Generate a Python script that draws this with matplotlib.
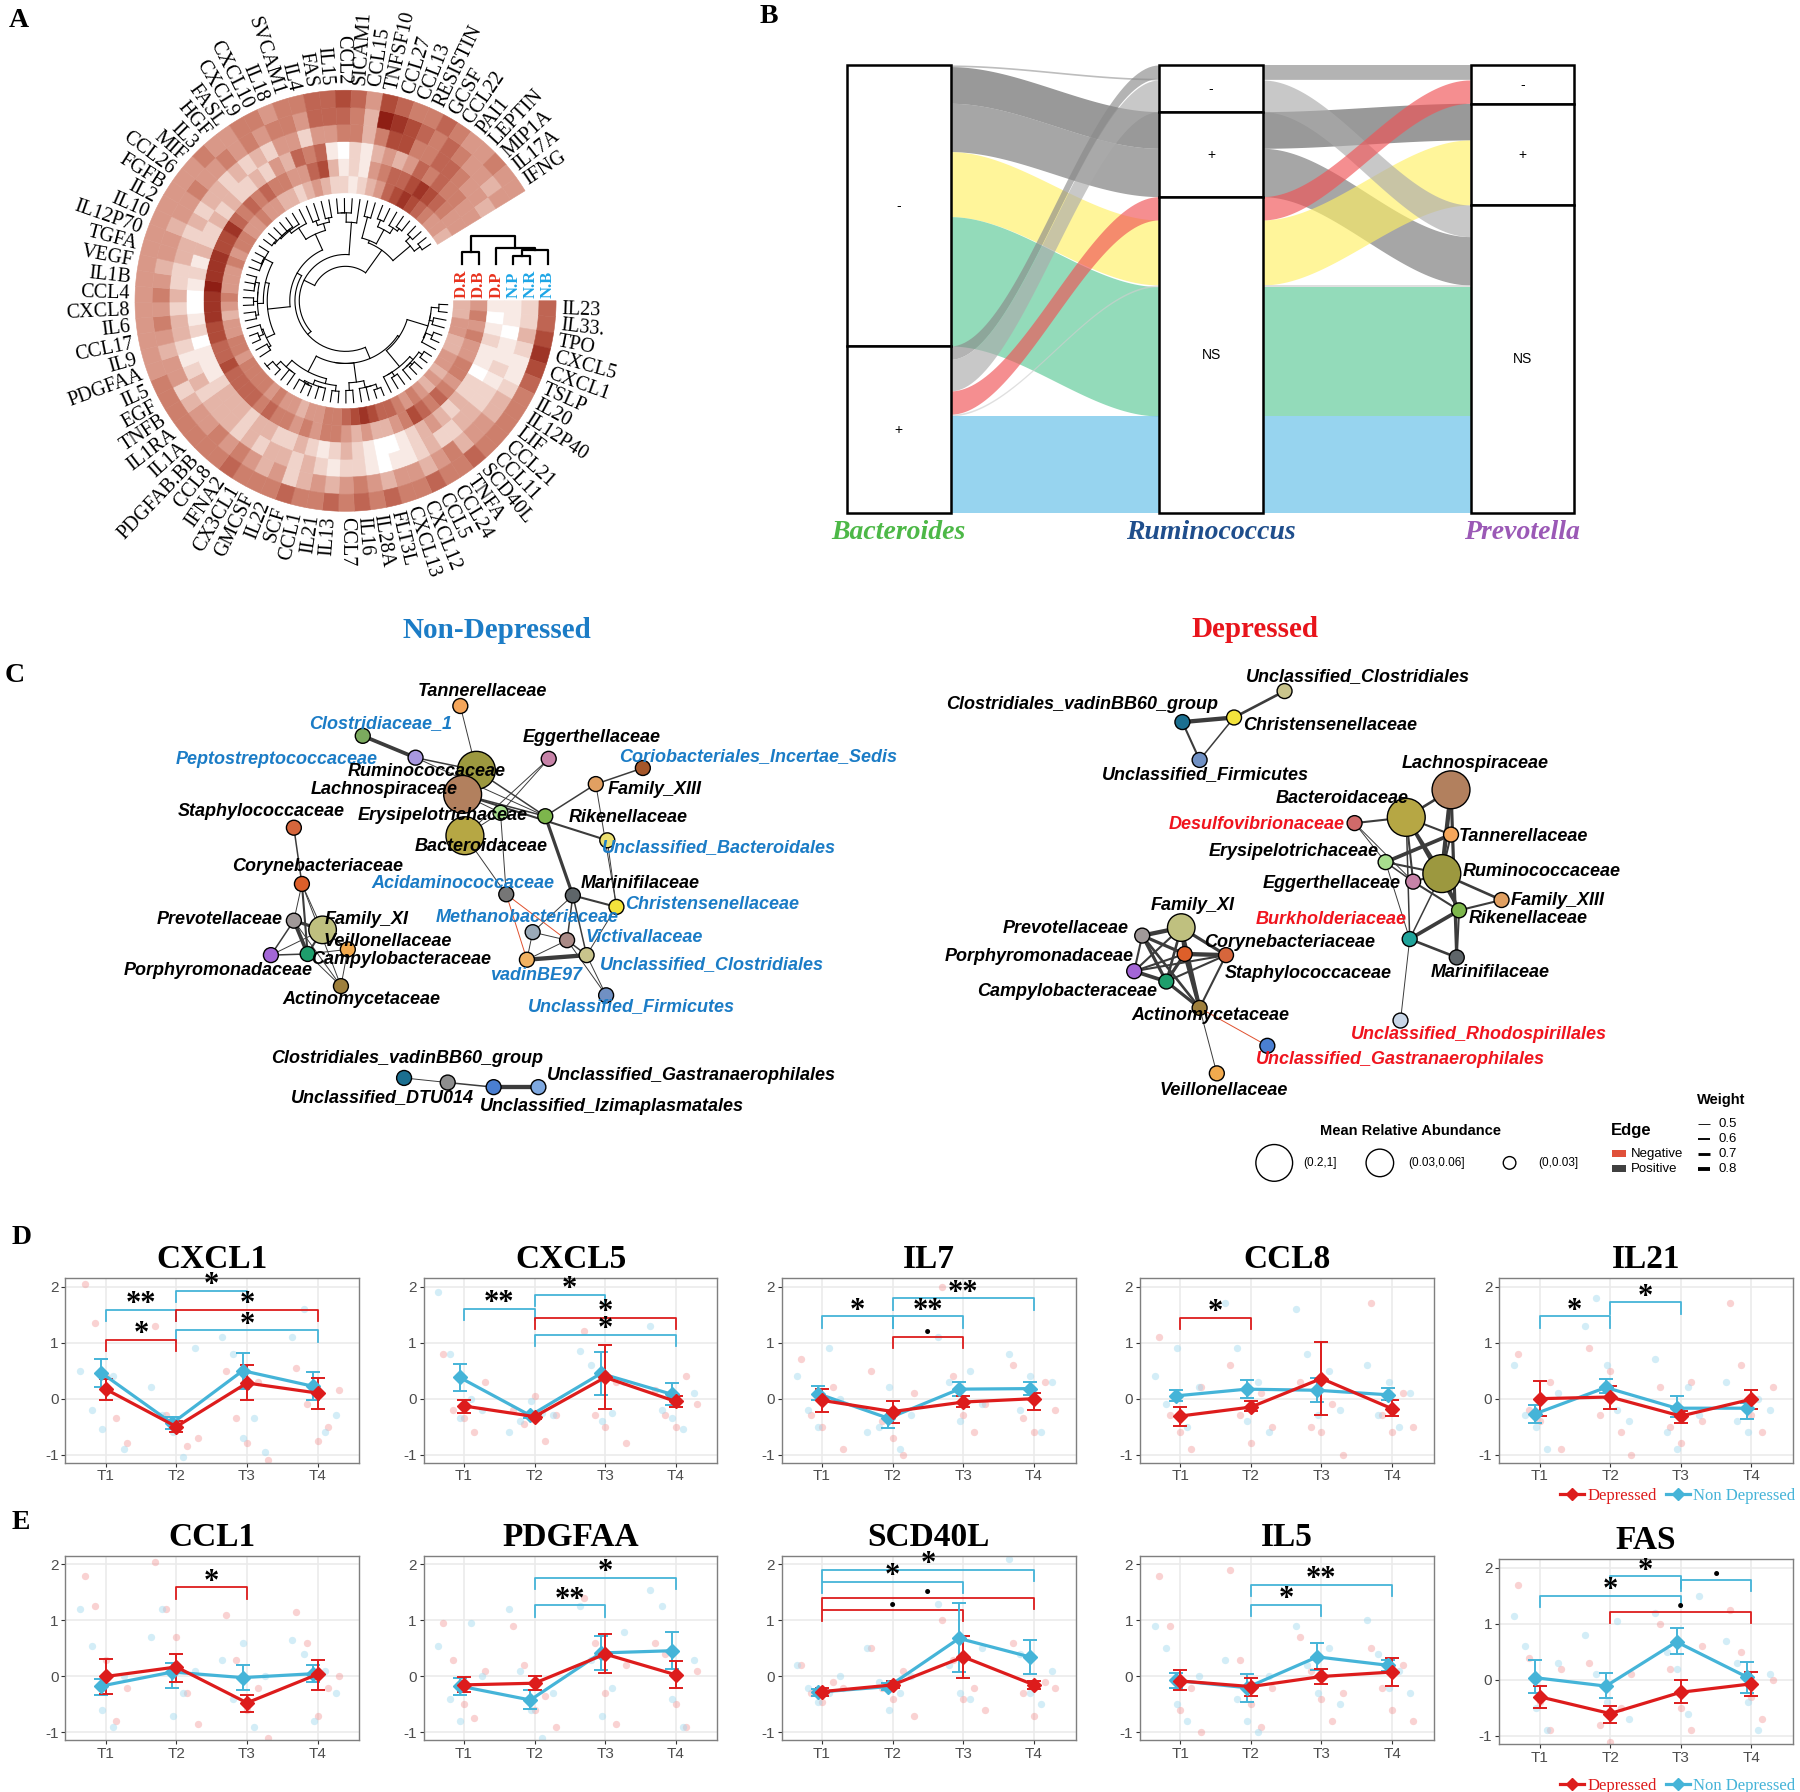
import numpy as np
import matplotlib
matplotlib.use("Agg")
import matplotlib.pyplot as plt
from matplotlib import font_manager
from matplotlib.patches import Polygon, Rectangle, Circle
from matplotlib.lines import Line2D
from matplotlib.colors import LinearSegmentedColormap

# canvas units for the hand laid-out panels (A, B, C)
W, H = 1568, 1561

_names = {f.name for f in font_manager.fontManager.ttflist}
NARROW = 'Liberation Sans Narrow' if 'Liberation Sans Narrow' in _names else 'Liberation Sans'
NET_FS = 14 if NARROW == 'Liberation Sans Narrow' else 13
SERIF = 'Liberation Serif'
SANS = 'Liberation Sans'

# ---------------- panel A : circular heatmap ----------------
cytokines = ["IL23", "IL33.", "TPO", "CXCL5", "CXCL1", "TSLP", "IL20", "IL12P40", "LIF",
             "CCL21", "CCL11", "SCD40L", "TNFA", "CCL24", "CCL5", "CXCL12", "CXCL13", "FLT3L",
             "IL28A", "IL16", "CCL7", "IL13", "IL21", "CCL1", "SCF", "IL22", "GMCSF", "CX3CL1",
             "IFNA2", "CCL8", "PDGFAB.BB", "IL1A", "IL1RA", "TNFB", "EGF", "IL5", "PDGFAA", "IL9",
             "CCL17", "IL6", "CXCL8", "CCL4", "IL1B", "VEGF", "TGFA", "IL12P70", "IL10", "IL2",
             "FGFB", "CCL26", "MIF", "IL3", "HGF", "FASL", "CXCL9", "CXCL10", "IL18", "SVCAM1",
             "IL4", "FAS", "IL15", "CCL2", "SICAM1", "CCL15", "TNFSF10", "CCL27", "CCL13",
             "RESISTIN", "GCSF", "CCL22", "PAI1", "LEPTIN", "MIP1A", "IL17A", "IFNG"]
groups = ["D.R", "D.B", "D.P", "N.P", "N.R", "N.B"]   # inner -> outer ring
# colour level 0 (white) .. 9 (dark red), one digit per cytokine
ring_DR = "334433443" + "43454566787" + "655443445455" + "5545544345" + "4445455445" + "4433234322" + "1234678765" + "443"
ring_DB = "454544554" + "56567543343" + "455454556566" + "6676677888" + "9888778656" + "5655446731" + "2145667876" + "544"
ring_DP = "101211022" + "32343210012" + "321232233233" + "3211102100" + "1213223232" + "2324365610" + "2134346565" + "544"
ring_NP = "110112122" + "33223211012" + "212323323233" + "3232123323" + "2233232332" + "3232442445" + "5357755665" + "443"
ring_NR = "223211233" + "44354344345" + "434324345454" + "4324434545" + "4344344544" + "5454554666" + "5398765654" + "434"
ring_NB = "667876555" + "55655655656" + "565565556555" + "5555444444" + "4444444445" + "4455455667" + "6476556544" + "544"
# column dendrogram, scipy-like linkage (ids 6.. are merged nodes)
col_links = [(3, 4, 0.30), (6, 5, 0.50), (2, 7, 0.58), (0, 1, 0.45), (9, 8, 1.0)]

# ---------------- panel B : alluvial ----------------
alluvial_axes = ["Bacteroides", "Ruminococcus", "Prevotella"]
axis_colors = ["#4DB847", "#1F4E8C", "#9B59B6"]
strata = ["-", "+", "NS"]
# name: (Bacteroides, Ruminococcus, Prevotella, weight, colour)
alluvia = {
    "thin_a": ("-", "-", "-", 5, "#9a9a9a"),
    "dk1": ("-", "+", "+", 110, "#626262"),
    "mid1": ("-", "+", "NS", 145, "#767676"),
    "yellow": ("-", "NS", "+", 195, "#FFF064"),
    "green": ("-", "NS", "NS", 388, "#59C895"),
    "dk2": ("+", "-", "-", 40, "#8a8a8a"),
    "lt1": ("+", "-", "NS", 95, "#ababab"),
    "red": ("+", "NS", "-", 70, "#F05255"),
    "thin_b": ("+", "NS", "NS", 5, "#cfcfcf"),
    "blue": ("+", "NS", "NS", 290, "#5FBDE7"),
}
lode_order = [
    ["thin_a", "dk1", "mid1", "yellow", "green", "dk2", "lt1", "red", "thin_b", "blue"],
    ["dk2", "thin_a", "lt1", "dk1", "mid1", "red", "yellow", "thin_b", "green", "blue"],
    ["dk2", "thin_a", "red", "dk1", "yellow", "lt1", "mid1", "thin_b", "green", "blue"],
]

# ---------------- panel C : networks ----------------
family_colors = {
    "Tannerellaceae": "#F5A65B", "Clostridiaceae_1": "#7BAA5E", "Eggerthellaceae": "#C783A8",
    "Peptostreptococcaceae": "#A898E0", "Coriobacteriales_Incertae_Sedis": "#A5572A",
    "Ruminococcaceae": "#9C983F", "Lachnospiraceae": "#B2805E", "Family_XIII": "#E1A062",
    "Staphylococcaceae": "#D6663C", "Erysipelotrichaceae": "#A8DE8E", "Rikenellaceae": "#7DB64C",
    "Bacteroidaceae": "#B6A744", "Unclassified_Bacteroidales": "#ECE070",
    "Corynebacteriaceae": "#DD5F2A", "Acidaminococcaceae": "#767676", "Marinifilaceae": "#5E6569",
    "Christensenellaceae": "#F3E33C", "Prevotellaceae": "#A09898", "Family_XI": "#BFC07F",
    "Methanobacteriaceae": "#9BAAB8", "Victivallaceae": "#AA8A86", "Veillonellaceae": "#F2AA4E",
    "Porphyromonadaceae": "#A366D6", "Campylobacteraceae": "#1E9E6C",
    "Unclassified_Clostridiales": "#C9C48C", "vadinBE97": "#F1B262", "Actinomycetaceae": "#9E7F3C",
    "Unclassified_Firmicutes": "#7090C3", "Clostridiales_vadinBB60_group": "#1B6F90",
    "Unclassified_DTU014": "#8E8E8E", "Unclassified_Gastranaerophilales": "#4A7FD1",
    "Unclassified_Izimaplasmatales": "#7EA8E0", "Desulfovibrionaceae": "#D06A6A",
    "Burkholderiaceae": "#1FA39A", "Unclassified_Rhodospirillales": "#C9D7E8",
}
# name, x, y, abundance class, label x, label y, label colour
nd_nodes = [
    ("Tannerellaceae", 401, 615, "S", 420, 602, "k"),
    ("Clostridiaceae_1", 316, 641, "S", 332, 630, "b"),
    ("Eggerthellaceae", 478, 661, "S", 515, 642, "k"),
    ("Peptostreptococcaceae", 362, 660, "S", 241, 662, "b"),
    ("Coriobacteriales_Incertae_Sedis", 560, 669, "S", 660, 659, "b"),
    ("Ruminococcaceae", 415, 671, "L", 372, 672, "k"),
    ("Lachnospiraceae", 403, 692, "L", 335, 688, "k"),
    ("Family_XIII", 519, 683, "S", 570, 688, "k"),
    ("Staphylococcaceae", 256, 721, "S", 228, 707, "k"),
    ("Erysipelotrichaceae", 436, 708, "S", 386, 710, "k"),
    ("Rikenellaceae", 475, 711, "S", 547, 712, "k"),
    ("Bacteroidaceae", 405, 728, "L", 419, 737, "k"),
    ("Unclassified_Bacteroidales", 529, 732, "S", 626, 738, "b"),
    ("Corynebacteriaceae", 263, 770, "S", 277, 755, "k"),
    ("Acidaminococcaceae", 441, 779, "S", 403, 770, "b"),
    ("Marinifilaceae", 499, 780, "S", 558, 770, "k"),
    ("Christensenellaceae", 537, 790, "S", 620, 788, "b"),
    ("Prevotellaceae", 256, 802, "S", 191, 801, "k"),
    ("Family_XI", 281, 810, "M", 319, 801, "k"),
    ("Methanobacteriaceae", 464, 812, "S", 459, 799, "b"),
    ("Victivallaceae", 494, 819, "S", 561, 817, "b"),
    ("Veillonellaceae", 303, 827, "S", 338, 820, "k"),
    ("Porphyromonadaceae", 236, 832, "S", 190, 845, "k"),
    ("Campylobacteraceae", 268, 831, "S", 349, 836, "k"),
    ("Unclassified_Clostridiales", 511, 832, "S", 620, 840, "b"),
    ("vadinBE97", 459, 836, "S", 467, 850, "b"),
    ("Actinomycetaceae", 297, 859, "S", 315, 871, "k"),
    ("Unclassified_Firmicutes", 528, 867, "S", 550, 877, "b"),
    ("Clostridiales_vadinBB60_group", 352, 939, "S", 355, 922, "k"),
    ("Unclassified_DTU014", 390, 943, "S", 333, 956, "k"),
    ("Unclassified_Gastranaerophilales", 430, 947, "S", 602, 937, "k"),
    ("Unclassified_Izimaplasmatales", 469, 947, "S", 533, 964, "k"),
]
dep_nodes = [
    ("Unclassified_Clostridiales", 1119, 602, "S", 1183, 589, "k"),
    ("Clostridiales_vadinBB60_group", 1030, 629, "S", 943, 614, "k"),
    ("Christensenellaceae", 1075, 625, "S", 1159, 632, "k"),
    ("Unclassified_Firmicutes", 1045, 662, "S", 1050, 675, "k"),
    ("Lachnospiraceae", 1264, 688, "L", 1285, 665, "k"),
    ("Bacteroidaceae", 1225, 712, "L", 1169, 696, "k"),
    ("Desulfovibrionaceae", 1180, 717, "S", 1095, 718, "r"),
    ("Tannerellaceae", 1264, 727, "S", 1327, 729, "k"),
    ("Erysipelotrichaceae", 1207, 751, "S", 1127, 742, "k"),
    ("Ruminococcaceae", 1256, 761, "L", 1343, 759, "k"),
    ("Eggerthellaceae", 1231, 768, "S", 1160, 770, "k"),
    ("Family_XIII", 1308, 784, "S", 1357, 784, "k"),
    ("Family_XI", 1029, 808, "M", 1039, 789, "k"),
    ("Burkholderiaceae", 1228, 818, "S", 1160, 801, "r"),
    ("Rikenellaceae", 1271, 793, "S", 1331, 800, "k"),
    ("Prevotellaceae", 995, 815, "S", 928, 809, "k"),
    ("Corynebacteriaceae", 1032, 831, "S", 1123, 821, "k"),
    ("Staphylococcaceae", 1068, 832, "S", 1140, 848, "k"),
    ("Porphyromonadaceae", 988, 846, "S", 905, 833, "k"),
    ("Marinifilaceae", 1269, 834, "S", 1298, 847, "k"),
    ("Campylobacteraceae", 1016, 855, "S", 930, 864, "k"),
    ("Actinomycetaceae", 1045, 878, "S", 1054, 885, "k"),
    ("Unclassified_Rhodospirillales", 1220, 889, "S", 1288, 901, "r"),
    ("Unclassified_Gastranaerophilales", 1104, 911, "S", 1220, 923, "r"),
    ("Veillonellaceae", 1060, 935, "S", 1066, 950, "k"),
]
# edge weight, negative sign = negative correlation
nd_edges = [
    ("Tannerellaceae", "Ruminococcaceae", 0.5), ("Clostridiaceae_1", "Peptostreptococcaceae", 0.75),
    ("Peptostreptococcaceae", "Ruminococcaceae", 0.55), ("Peptostreptococcaceae", "Rikenellaceae", 0.5),
    ("Eggerthellaceae", "Erysipelotrichaceae", 0.5), ("Eggerthellaceae", "Bacteroidaceae", 0.5),
    ("Coriobacteriales_Incertae_Sedis", "Family_XIII", 0.55), ("Family_XIII", "Rikenellaceae", 0.55),
    ("Family_XIII", "Christensenellaceae", 0.5), ("Ruminococcaceae", "Lachnospiraceae", 0.6),
    ("Ruminococcaceae", "Bacteroidaceae", 0.6), ("Ruminococcaceae", "Rikenellaceae", 0.55),
    ("Lachnospiraceae", "Rikenellaceae", 0.55), ("Lachnospiraceae", "Unclassified_Bacteroidales", 0.6),
    ("Lachnospiraceae", "Erysipelotrichaceae", 0.5), ("Erysipelotrichaceae", "Bacteroidaceae", 0.5),
    ("Erysipelotrichaceae", "Acidaminococcaceae", 0.5), ("Rikenellaceae", "Marinifilaceae", 0.7),
    ("Bacteroidaceae", "Acidaminococcaceae", 0.5), ("Unclassified_Bacteroidales", "Christensenellaceae", 0.5),
    ("Marinifilaceae", "Christensenellaceae", 0.6), ("Marinifilaceae", "Victivallaceae", 0.55),
    ("Marinifilaceae", "Methanobacteriaceae", 0.5), ("Acidaminococcaceae", "Victivallaceae", -0.5),
    ("Acidaminococcaceae", "vadinBE97", -0.5), ("Staphylococcaceae", "Corynebacteriaceae", 0.55),
    ("Corynebacteriaceae", "Prevotellaceae", 0.5), ("Corynebacteriaceae", "Family_XI", 0.5),
    ("Corynebacteriaceae", "Campylobacteraceae", 0.6), ("Corynebacteriaceae", "Actinomycetaceae", 0.5),
    ("Prevotellaceae", "Family_XI", 0.7), ("Prevotellaceae", "Campylobacteraceae", 0.75),
    ("Prevotellaceae", "Porphyromonadaceae", 0.55), ("Prevotellaceae", "Actinomycetaceae", 0.5),
    ("Family_XI", "Campylobacteraceae", 0.6), ("Family_XI", "Veillonellaceae", 0.55),
    ("Family_XI", "Porphyromonadaceae", 0.5), ("Porphyromonadaceae", "Campylobacteraceae", 0.55),
    ("Campylobacteraceae", "Veillonellaceae", 0.5), ("Campylobacteraceae", "Actinomycetaceae", 0.5),
    ("Veillonellaceae", "Actinomycetaceae", 0.5), ("Methanobacteriaceae", "vadinBE97", 0.5),
    ("Methanobacteriaceae", "Victivallaceae", 0.5), ("Victivallaceae", "Unclassified_Clostridiales", 0.55),
    ("Victivallaceae", "vadinBE97", 0.5), ("vadinBE97", "Unclassified_Clostridiales", 0.8),
    ("Unclassified_Clostridiales", "Unclassified_Firmicutes", 0.5),
    ("Unclassified_Clostridiales", "Christensenellaceae", 0.5),
    ("Unclassified_Clostridiales", "Marinifilaceae", 0.55), ("Victivallaceae", "Unclassified_Firmicutes", 0.5),
    ("Clostridiales_vadinBB60_group", "Unclassified_DTU014", 0.5),
    ("Unclassified_DTU014", "Unclassified_Gastranaerophilales", 0.55),
    ("Unclassified_Gastranaerophilales", "Unclassified_Izimaplasmatales", 0.8),
]
dep_edges = [
    ("Unclassified_Clostridiales", "Christensenellaceae", 0.65),
    ("Clostridiales_vadinBB60_group", "Christensenellaceae", 0.8),
    ("Clostridiales_vadinBB60_group", "Unclassified_Firmicutes", 0.6),
    ("Christensenellaceae", "Unclassified_Firmicutes", 0.55),
    ("Lachnospiraceae", "Bacteroidaceae", 0.65), ("Lachnospiraceae", "Ruminococcaceae", 0.8),
    ("Lachnospiraceae", "Marinifilaceae", 0.7), ("Bacteroidaceae", "Desulfovibrionaceae", 0.6),
    ("Bacteroidaceae", "Tannerellaceae", 0.6), ("Bacteroidaceae", "Ruminococcaceae", 0.7),
    ("Bacteroidaceae", "Eggerthellaceae", 0.6), ("Bacteroidaceae", "Burkholderiaceae", 0.55),
    ("Bacteroidaceae", "Rikenellaceae", 0.65), ("Desulfovibrionaceae", "Erysipelotrichaceae", 0.5),
    ("Desulfovibrionaceae", "Eggerthellaceae", 0.5), ("Tannerellaceae", "Erysipelotrichaceae", 0.75),
    ("Tannerellaceae", "Ruminococcaceae", 0.6), ("Erysipelotrichaceae", "Ruminococcaceae", 0.6),
    ("Erysipelotrichaceae", "Eggerthellaceae", 0.55), ("Erysipelotrichaceae", "Burkholderiaceae", 0.5),
    ("Ruminococcaceae", "Eggerthellaceae", 0.6), ("Ruminococcaceae", "Family_XIII", 0.65),
    ("Ruminococcaceae", "Rikenellaceae", 0.7), ("Ruminococcaceae", "Burkholderiaceae", 0.55),
    ("Family_XIII", "Rikenellaceae", 0.6), ("Eggerthellaceae", "Rikenellaceae", 0.6),
    ("Rikenellaceae", "Burkholderiaceae", 0.75), ("Rikenellaceae", "Marinifilaceae", 0.6),
    ("Burkholderiaceae", "Marinifilaceae", 0.65), ("Burkholderiaceae", "Unclassified_Rhodospirillales", 0.5),
    ("Family_XI", "Prevotellaceae", 0.8), ("Family_XI", "Corynebacteriaceae", 0.7),
    ("Family_XI", "Staphylococcaceae", 0.7), ("Family_XI", "Campylobacteraceae", 0.65),
    ("Family_XI", "Actinomycetaceae", 0.75), ("Family_XI", "Porphyromonadaceae", 0.6),
    ("Prevotellaceae", "Corynebacteriaceae", 0.7), ("Prevotellaceae", "Porphyromonadaceae", 0.6),
    ("Prevotellaceae", "Campylobacteraceae", 0.7), ("Prevotellaceae", "Actinomycetaceae", 0.65),
    ("Corynebacteriaceae", "Staphylococcaceae", 0.8), ("Corynebacteriaceae", "Campylobacteraceae", 0.7),
    ("Corynebacteriaceae", "Actinomycetaceae", 0.75), ("Corynebacteriaceae", "Porphyromonadaceae", 0.6),
    ("Porphyromonadaceae", "Campylobacteraceae", 0.75), ("Porphyromonadaceae", "Staphylococcaceae", 0.6),
    ("Campylobacteraceae", "Actinomycetaceae", 0.7), ("Campylobacteraceae", "Staphylococcaceae", 0.6),
    ("Staphylococcaceae", "Actinomycetaceae", 0.6),
    ("Actinomycetaceae", "Unclassified_Gastranaerophilales", -0.5),
    ("Actinomycetaceae", "Veillonellaceae", 0.5),
]
node_radius = {"L": 16.5, "M": 12, "S": 6.5}

# ---------------- panels D / E : cytokine time courses ----------------
timepoints = ["T1", "T2", "T3", "T4"]
cyto_panels = ["CXCL1", "CXCL5", "IL7", "CCL8", "IL21", "CCL1", "PDGFAA", "SCD40L", "IL5", "FAS"]
dep_mean = {"CXCL1": [0.17, -0.50, 0.28, 0.10], "CXCL5": [-0.13, -0.32, 0.38, -0.05],
            "IL7": [-0.03, -0.23, -0.06, 0.0], "CCL8": [-0.31, -0.15, 0.36, -0.18],
            "IL21": [0.0, 0.03, -0.31, -0.01], "CCL1": [0.0, 0.17, -0.47, 0.04],
            "PDGFAA": [-0.15, -0.12, 0.40, 0.03], "SCD40L": [-0.27, -0.15, 0.35, -0.15],
            "IL5": [-0.08, -0.18, 0.0, 0.08], "FAS": [-0.30, -0.60, -0.22, -0.07]}
dep_lo = {"CXCL1": [-0.03, -0.60, -0.03, -0.18], "CXCL5": [-0.25, -0.37, -0.18, -0.15],
          "IL7": [-0.24, -0.43, -0.15, -0.20], "CCL8": [-0.49, -0.22, -0.30, -0.31],
          "IL21": [-0.31, -0.18, -0.44, -0.18], "CCL1": [-0.32, -0.09, -0.63, -0.24],
          "PDGFAA": [-0.28, -0.24, 0.06, -0.21], "SCD40L": [-0.35, -0.20, -0.02, -0.22],
          "IL5": [-0.24, -0.35, -0.14, -0.17], "FAS": [-0.50, -0.76, -0.42, -0.29]}
dep_hi = {"CXCL1": [0.35, -0.40, 0.60, 0.37], "CXCL5": [-0.02, -0.27, 0.95, 0.05],
          "IL7": [0.17, -0.04, 0.04, 0.10], "CCL8": [-0.14, -0.05, 1.02, -0.02],
          "IL21": [0.31, 0.23, -0.22, 0.15], "CCL1": [0.32, 0.40, -0.33, 0.30],
          "PDGFAA": [-0.01, 0.0, 0.76, 0.28], "SCD40L": [-0.20, -0.08, 0.73, -0.08],
          "IL5": [0.11, -0.02, 0.14, 0.33], "FAS": [-0.10, -0.46, -0.01, 0.15]}
non_mean = {"CXCL1": [0.46, -0.44, 0.50, 0.22], "CXCL5": [0.38, -0.30, 0.45, 0.08],
            "IL7": [0.09, -0.35, 0.17, 0.18], "CCL8": [0.05, 0.17, 0.15, 0.07],
            "IL21": [-0.27, 0.20, -0.17, -0.17], "CCL1": [-0.17, 0.08, -0.02, 0.05],
            "PDGFAA": [-0.17, -0.42, 0.42, 0.46], "SCD40L": [-0.28, -0.18, 0.68, 0.35],
            "IL5": [-0.07, -0.20, 0.35, 0.20], "FAS": [0.04, -0.11, 0.68, 0.05]}
non_lo = {"CXCL1": [0.20, -0.55, 0.18, -0.03], "CXCL5": [0.13, -0.35, 0.07, -0.12],
          "IL7": [-0.02, -0.52, 0.04, 0.07], "CCL8": [-0.05, 0.01, -0.06, -0.02],
          "IL21": [-0.43, 0.10, -0.33, -0.36], "CCL1": [-0.33, -0.20, -0.25, -0.09],
          "PDGFAA": [-0.33, -0.58, 0.12, 0.13], "SCD40L": [-0.34, -0.24, 0.08, 0.05],
          "IL5": [-0.20, -0.45, 0.12, 0.10], "FAS": [-0.24, -0.33, 0.46, -0.24]}
non_hi = {"CXCL1": [0.70, -0.33, 0.82, 0.48], "CXCL5": [0.62, -0.25, 0.83, 0.28],
          "IL7": [0.23, -0.20, 0.29, 0.29], "CCL8": [0.16, 0.34, 0.37, 0.19],
          "IL21": [-0.12, 0.35, 0.05, -0.07], "CCL1": [-0.04, 0.24, 0.20, 0.21],
          "PDGFAA": [-0.03, -0.25, 0.73, 0.79], "SCD40L": [-0.23, -0.11, 1.32, 0.66],
          "IL5": [0.06, 0.05, 0.59, 0.30], "FAS": [0.36, 0.12, 0.92, 0.32]}
# (from, to, height, label, group)
brackets = {
    "CXCL1": [(2, 3, 1.92, "*", "N"), (1, 2, 1.58, "**", "N"), (2, 4, 1.58, "*", "D"),
              (2, 4, 1.22, "*", "N"), (1, 2, 1.05, "*", "D")],
    "CXCL5": [(2, 3, 1.85, "*", "N"), (1, 2, 1.60, "**", "N"), (2, 4, 1.44, "*", "D"),
              (2, 4, 1.14, "*", "N")],
    "IL7": [(2, 4, 1.79, "**", "N"), (1, 2, 1.47, "*", "N"), (2, 3, 1.47, "**", "N"),
            (2, 3, 1.10, "•", "D")],
    "CCL8": [(1, 2, 1.44, "*", "D")],
    "IL21": [(2, 3, 1.72, "*", "N"), (1, 2, 1.47, "*", "N")],
    "CCL1": [(2, 3, 1.59, "*", "D")],
    "PDGFAA": [(2, 4, 1.76, "*", "N"), (2, 3, 1.27, "**", "N")],
    "SCD40L": [(1, 4, 1.90, "*", "N"), (1, 3, 1.69, "*", "N"), (1, 4, 1.41, "•", "D"),
               (1, 3, 1.19, "•", "D")],
    "IL5": [(2, 4, 1.63, "**", "N"), (2, 3, 1.28, "*", "N")],
    "FAS": [(2, 3, 1.85, "*", "N"), (3, 4, 1.79, "•", "N"), (1, 3, 1.50, "*", "N"),
            (2, 4, 1.22, "•", "D")],
}
# individual z-scores, five per time point, time points split by "|"
pts_dep = {
    "CXCL1": "2.05 1.35 0.4 -0.35 -0.8 | 1.3 -0.3 -0.55 -0.85 -0.7 | 0.5 -0.35 -0.8 0.3 -1.1 | 0.55 -0.1 -0.75 -0.5 0.15",
    "CXCL5": "0.8 -0.2 -0.35 -0.6 0.3 | -0.2 -0.45 0.05 -0.75 -0.3 | 1.2 -0.3 -0.5 0.3 -0.8 | 0.15 -0.3 -0.5 0.4 -0.1",
    "IL7": "0.7 -0.3 -0.5 0.2 -0.9 | 0.5 -0.4 -0.7 -1.0 0.1 | 2.0 0.4 -0.3 -0.6 -0.1 | 0.6 -0.35 -0.6 0.3 -0.2",
    "CCL8": "1.1 -0.3 -0.6 -0.9 0.2 | 0.6 -0.3 -0.8 0.1 -0.5 | 0.3 -0.5 -0.6 -0.1 -1.0 | 1.7 -0.3 -0.6 0.1 -0.5",
    "IL21": "0.8 -0.2 -0.4 0.3 -0.9 | 0.9 -0.3 0.5 -0.6 -1.0 | 0.2 -0.5 -0.8 0.3 -0.4 | 1.7 0.6 -0.3 -0.6 0.2",
    "CCL1": "1.8 1.25 0.3 -0.8 -0.2 | 2.05 1.2 0.7 -0.3 -0.85 | 1.1 0.3 -0.6 -0.2 -1.1 | 1.15 0.6 -0.7 -0.2 0.0",
    "PDGFAA": "0.95 0.3 -0.5 -0.75 0.1 | 0.9 0.2 -0.6 -0.35 -0.9 | 1.4 0.6 -0.3 -0.85 0.2 | 0.6 0.4 -0.5 -0.9 0.1",
    "SCD40L": "0.2 -0.3 -0.45 -0.1 -0.2 | 0.5 -0.2 -0.4 0.1 -0.7 | 1.0 0.3 -0.4 -0.2 -0.6 | 0.6 -0.3 -0.7 -0.1 -0.2",
    "IL5": "1.8 0.9 -0.6 -0.2 -1.0 | 1.9 0.3 -0.5 -0.9 -0.2 | 0.7 0.1 -0.4 -0.8 -0.3 | 0.5 -0.2 -0.6 0.2 -0.8",
    "FAS": "1.7 0.4 -0.4 -0.9 0.2 | 0.3 -0.8 -1.1 -0.5 0.1 | 1.0 0.2 -0.5 -0.9 0.6 | 1.25 0.5 -0.3 -0.7 0.0",
}
pts_non = {
    "CXCL1": "0.5 -0.2 -0.55 0.4 -0.9 | 0.2 -0.3 -0.6 -1.05 0.9 | 1.1 0.8 -0.7 -0.35 -0.95 | 1.1 1.6 0.1 -0.6 -0.3",
    "CXCL5": "1.9 0.8 -0.35 0.0 -0.2 | -0.6 -0.4 -0.05 -0.25 -0.3 | 0.85 0.6 -0.4 -0.25 0.3 | 1.3 -0.2 -0.35 -0.55 0.1",
    "IL7": "0.4 -0.2 -0.5 0.9 0.0 | -0.6 -0.5 0.2 -0.9 -0.3 | 1.1 0.3 -0.4 0.5 -0.1 | 0.8 -0.2 0.4 -0.6 0.3",
    "CCL8": "0.4 -0.1 0.9 -0.5 0.2 | 1.7 0.9 -0.4 0.3 -0.6 | 1.6 0.8 -0.3 0.5 -0.2 | 0.6 -0.3 0.3 -0.5 0.1",
    "IL21": "0.6 -0.3 -0.5 -0.9 0.1 | 1.3 1.8 0.6 -0.2 -0.4 | 0.7 -0.6 -0.9 0.2 -0.3 | 0.3 -0.4 -0.6 0.0 -0.2",
    "CCL1": "1.2 0.55 -0.6 -0.9 0.0 | 0.7 1.2 -0.7 -0.3 0.1 | 0.3 -0.4 0.6 -0.9 0.0 | 0.65 0.4 -0.8 0.1 -0.3",
    "PDGFAA": "0.55 -0.4 -0.8 0.95 0.0 | 1.2 0.1 -0.6 -1.1 -0.3 | 1.25 0.3 -0.7 -0.2 0.8 | 1.55 1.25 -0.4 -0.9 0.3",
    "SCD40L": "0.2 -0.2 -0.45 -0.3 0.0 | 0.5 -0.1 -0.6 -0.3 0.0 | 1.3 0.2 -0.3 -0.4 0.5 | 2.1 0.4 -0.3 -0.5 0.1",
    "IL5": "0.9 0.5 -0.5 -0.8 0.0 | 0.3 -0.4 -0.8 -1.0 0.0 | 0.9 0.2 -0.3 0.5 -0.5 | 1.0 0.4 -0.2 0.1 -0.3",
    "FAS": "1.15 0.6 -0.5 -0.9 0.3 | 0.8 0.1 -0.4 1.05 -0.7 | 1.2 0.5 0.2 -0.6 1.5 | 0.7 0.3 -0.4 -0.9 0.1",
}

RED = "#DD1C1C"
BLUE = "#45B4D8"

fig = plt.figure(figsize=(18, 17.92), dpi=100)
ax = fig.add_axes([0, 0, 1, 1])
ax.set_xlim(0, W)
ax.set_ylim(H, 0)
ax.axis("off")

def letter(x, y, s):
    ax.text(x, y, s, fontsize=20, fontweight="bold", family=SERIF, ha="left", va="center")

for s, x, y in [("A", 8, 18), ("B", 662, 14), ("C", 4, 588), ("D", 10, 1078), ("E", 10, 1326)]:
    letter(x, y, s)

# ======== panel A ========
CX, CY = 301, 262
R_IN, R_STEP = 94, 14.9
n_cyt = len(cytokines)
step = (360 - 31.5) / n_cyt
theta_c = -(np.arange(n_cyt) + 0.5) * step

def polar(r, ang):
    a = np.radians(ang)
    return CX + r * np.cos(a), CY - r * np.sin(a)

cmap = LinearSegmentedColormap.from_list("hm", ["#FFFFFF", "#F2D8D0", "#DDA292", "#C97562", "#AC4634", "#8E1E14"])
rings = [ring_DR, ring_DB, ring_DP, ring_NP, ring_NR, ring_NB]
mat = np.array([[int(c) for c in s] for s in rings]).T  # cytokine x group
for g in range(len(groups)):
    r0 = R_IN + g * R_STEP
    r1 = r0 + R_STEP
    for i in range(n_cyt):
        a0, a1 = -i * step, -(i + 1) * step
        angs = np.linspace(a0, a1, 6)
        xo, yo = polar(r1, angs)
        xi, yi = polar(r0, angs[::-1])
        col = cmap(mat[i, g] / 9.0)
        ax.add_patch(Polygon(np.column_stack([np.r_[xo, xi], np.r_[yo, yi]]), closed=True,
                             facecolor=col, edgecolor=col, lw=0.4))

# row labels
R_LAB = R_IN + 6 * R_STEP + 5
for i, name in enumerate(cytokines):
    a = theta_c[i]
    an = (a + 180) % 360 - 180
    x, y = polar(R_LAB, a)
    if -90 <= an <= 90:
        rot, ha = an, "left"
    else:
        rot, ha = an + 180, "right"
    ax.text(x, y, name, rotation=rot, rotation_mode="anchor", ha=ha, va="center",
            fontsize=14.5, family=SERIF)

# row dendrogram: order-constrained Ward clustering of the heatmap rows
def constrained_tree(m):
    nodes = [dict(th=theta_c[i], h=0.0, c=m[i].astype(float), n=1) for i in range(len(m))]
    links = []
    while len(nodes) > 1:
        best, bk = None, 0
        for k in range(len(nodes) - 1):
            p, q = nodes[k], nodes[k + 1]
            d = np.sqrt(2.0 * p["n"] * q["n"] / (p["n"] + q["n"])) * np.linalg.norm(p["c"] - q["c"])
            if best is None or d < best:
                best, bk = d, k
        p, q = nodes[bk], nodes[bk + 1]
        h = max(best, p["h"], q["h"])
        links.append((p["th"], p["h"], q["th"], q["h"], h))
        n = p["n"] + q["n"]
        nodes[bk:bk + 2] = [dict(th=(p["th"] + q["th"]) / 2, h=h, c=(p["c"] * p["n"] + q["c"] * q["n"]) / n, n=n)]
    return links

links = constrained_tree(mat)
hmax = max(l[4] for l in links)
R_LEAF, R_ROOT = 89, 30
rad = lambda h: R_LEAF - (R_LEAF - R_ROOT) * (h / hmax) ** 0.8
for tha, ha_, thb, hb, h in links:
    rh = rad(h)
    for th, hh in ((tha, ha_), (thb, hb)):
        x, y = polar(np.array([rad(hh), rh]), th)
        ax.plot(x, y, color="k", lw=0.8)
    angs = np.linspace(tha, thb, 30)
    x, y = polar(rh, angs)
    ax.plot(x, y, color="k", lw=0.8)

# column labels and dendrogram in the gap
col_x = [CX + R_IN + (g + 0.5) * R_STEP for g in range(len(groups))]
for g, name in enumerate(groups):
    ax.text(col_x[g], 260, name, rotation=90, ha="center", va="bottom", fontsize=12,
            fontweight="bold", family=SERIF, color="#E8321E" if name.startswith("D") else "#1EA6E6")
Y_LEAF, Y_ROOT = 230, 206
cpos = {i: (col_x[i], 0.0) for i in range(len(groups))}
for k, (a, b, h) in enumerate(col_links):
    xa, ha_ = cpos[a]
    xb, hb = cpos[b]
    ya, yb = Y_LEAF - (Y_LEAF - Y_ROOT) * ha_, Y_LEAF - (Y_LEAF - Y_ROOT) * hb
    yh = Y_LEAF - (Y_LEAF - Y_ROOT) * h
    ax.plot([xa, xa, xb, xb], [ya, yh, yh, yb], color="k", lw=1.6)
    cpos[len(groups) + k] = ((xa + xb) / 2, h)

# ======== panel B ========
BAR_X = [738, 1010, 1281]
BAR_W = 90
B_TOP, B_BOT = 57, 447
total = sum(v[3] for v in alluvia.values())
scale = (B_BOT - B_TOP) / total
lode = []
for a in range(3):
    cur = B_TOP
    pos = {}
    for name in lode_order[a]:
        w = alluvia[name][3] * scale
        pos[name] = (cur, cur + w)
        cur += w
    lode.append(pos)

def smooth(t):
    return t * t * (3 - 2 * t)

t = np.linspace(0, 1, 60)
for a in range(2):
    x0 = BAR_X[a] + BAR_W
    x1 = BAR_X[a + 1]
    xs = x0 + (x1 - x0) * t
    for name, v in alluvia.items():
        (ta0, ba0), (ta1, ba1) = lode[a][name], lode[a + 1][name]
        top = ta0 + (ta1 - ta0) * smooth(t)
        bot = ba0 + (ba1 - ba0) * smooth(t)
        ax.fill(np.r_[xs, xs[::-1]], np.r_[top, bot[::-1]], color=v[4], alpha=0.65, lw=0, zorder=2)

for a in range(3):
    for s in strata:
        members = [n for n in lode_order[a] if alluvia[n][a] == s]
        if not members:
            continue
        y0 = lode[a][members[0]][0]
        y1 = lode[a][members[-1]][1]
        ax.add_patch(Rectangle((BAR_X[a], y0), BAR_W, y1 - y0, facecolor="white",
                               edgecolor="black", lw=1.8, zorder=4))
        ax.text(BAR_X[a] + BAR_W / 2, (y0 + y1) / 2, s, ha="center", va="center",
                fontsize=10, family=SANS, zorder=5)
    ax.text(BAR_X[a] + BAR_W / 2, 464, alluvial_axes[a], ha="center", va="center",
            fontsize=20, fontweight="bold", fontstyle="italic", family=SERIF, color=axis_colors[a])

# ======== panel C ========
ax.text(433, 549, "Non-Depressed", ha="center", va="center", fontsize=21, fontweight="bold",
        family=SERIF, color="#1B7CC6")
ax.text(1093, 548, "Depressed", ha="center", va="center", fontsize=21, fontweight="bold",
        family=SERIF, color="#E8141B")
label_colors = {"k": "black", "b": "#1B7CC6", "r": "#F0141E"}

def edge_lw(w):
    return 0.7 + (abs(w) - 0.5) * 8.0

def draw_network(nodes, edges):
    where = {n[0]: (n[1], n[2]) for n in nodes}
    for a, b, w in edges:
        (xa, ya), (xb, yb) = where[a], where[b]
        ax.plot([xa, xb], [ya, yb], color="#E0502E" if w < 0 else "#3C3C3C",
                lw=edge_lw(w), zorder=2, solid_capstyle="round")
    for name, x, y, cls, lx, ly, lc in nodes:
        ax.add_patch(Circle((x, y), node_radius[cls], facecolor=family_colors[name],
                            edgecolor="black", lw=1.0, zorder=3))
    for name, x, y, cls, lx, ly, lc in nodes:
        ax.text(lx, ly, name, ha="center", va="center", fontsize=NET_FS, fontweight="bold",
                fontstyle="italic", family=[NARROW, SANS], color=label_colors[lc], zorder=4)

draw_network(nd_nodes, nd_edges)
draw_network(dep_nodes, dep_edges)

# network legend
ax.text(1229, 985, "Mean Relative Abundance", ha="center", va="center", fontsize=10.5,
        fontweight="bold", family=SANS)
for (cx, r, lab) in [(1110, 16, "(0.2,1]"), (1202, 12, "(0.03,0.06]"), (1315, 5.5, "(0,0.03]")]:
    ax.add_patch(Circle((cx, 1013), r, facecolor="white", edgecolor="black", lw=1.0))
    ax.text(cx + 25, 1013, lab, ha="left", va="center", fontsize=8.5, family=SANS)
ax.text(1403, 985, "Edge", ha="left", va="center", fontsize=12, fontweight="bold", family=SANS)
for yy, col, lab in [(1005, "#E0503A", "Negative"), (1018, "#404040", "Positive")]:
    ax.add_patch(Rectangle((1404, yy - 3), 12, 6, facecolor=col, edgecolor="none"))
    ax.text(1421, yy, lab, ha="left", va="center", fontsize=9.5, family=SANS)
ax.text(1478, 958, "Weight", ha="left", va="center", fontsize=10.5, fontweight="bold", family=SANS)
for yy, w in zip([979, 992, 1005, 1018], [0.5, 0.6, 0.7, 0.8]):
    ax.plot([1479, 1490], [yy, yy], color="black", lw=edge_lw(w) * 0.9, solid_capstyle="butt")
    ax.text(1497, yy, f"{w:.1f}", ha="left", va="center", fontsize=9.5, family=SANS)

# ======== panels D / E ========
COL_LEFT = [57, 369, 681, 993, 1306]
PW = 256
ROWS = [(1113, 1274), (1355, 1516)]
x_t = np.arange(1, 5)
jit_d = np.array([-0.3, -0.15, 0.0, 0.15, 0.3])
jit_n = np.array([-0.36, -0.2, -0.05, 0.1, 0.26])

def parse_pts(s):
    return [np.array([float(v) for v in part.split()]) for part in s.split("|")]

for k, name in enumerate(cyto_panels):
    row, col = divmod(k, 5)
    yt, yb = ROWS[row]
    if name == "FAS":
        yt, yb = yt + 3, yb + 3
    a = fig.add_axes([COL_LEFT[col] / W, 1 - yb / H, PW / W, (yb - yt) / H])
    a.set_xlim(0.43, 4.59)
    a.set_ylim(-1.14, 2.16)
    a.set_xticks(x_t)
    a.set_xticklabels(timepoints)
    a.set_yticks([-1, 0, 1, 2])
    a.set_yticklabels(["-1", "0", "1", "2"])
    a.grid(color="#EBEBEB", lw=1.2)
    a.set_axisbelow(True)
    for sp in a.spines.values():
        sp.set_color("#7F7F7F")
        sp.set_linewidth(1.0)
    a.tick_params(length=3, color="#333333", labelcolor="#4D4D4D", labelsize=11, pad=2)
    for lab in a.get_xticklabels() + a.get_yticklabels():
        lab.set_family([NARROW, SANS])
    a.set_title(name, fontsize=24, fontweight="bold", family=SERIF, pad=7)

    for ti, vals in enumerate(parse_pts(pts_dep[name])):
        a.scatter(ti + 1 + jit_d[:len(vals)], vals, s=28, color="#F08080", alpha=0.35, lw=0, zorder=1)
    for ti, vals in enumerate(parse_pts(pts_non[name])):
        a.scatter(ti + 1 + jit_n[:len(vals)], vals, s=28, color="#9ED8EE", alpha=0.45, lw=0, zorder=1)

    for mean, lo, hi, col_, dx in [(non_mean, non_lo, non_hi, BLUE, -0.06), (dep_mean, dep_lo, dep_hi, RED, 0.0)]:
        m = np.array(mean[name])
        l = np.array(lo[name])
        h = np.array(hi[name])
        a.errorbar(x_t + dx, m, yerr=[m - l, h - m], fmt="none", ecolor=col_, elinewidth=1.4,
                   capsize=5, capthick=1.4, zorder=3)
        a.plot(x_t + dx, m, color=col_, lw=2.3, marker="D", ms=7, zorder=4)

    for ta, tb, yy, lab, grp in brackets[name]:
        c = BLUE if grp == "N" else RED
        a.plot([ta, ta, tb, tb], [yy - 0.2, yy, yy, yy - 0.2], color=c, lw=1.3, zorder=2)
        if lab == "•":
            a.text((ta + tb) / 2, yy - 0.03, lab, ha="center", va="baseline", fontsize=15, family=SERIF)
        else:
            a.text((ta + tb) / 2, yy - 0.04, lab, ha="center", va="baseline", fontsize=22,
                   fontweight="bold", family=SERIF)

    if col == 4:
        handles = [Line2D([], [], color=RED, lw=2.3, marker="D", ms=6),
                   Line2D([], [], color=BLUE, lw=2.3, marker="D", ms=6)]
        off = -0.18 if row == 0 else -0.23
        leg = a.legend(handles, ["Depressed", "Non Depressed"], loc="center right",
                       bbox_to_anchor=(1.03, off), ncol=2, frameon=False, handlelength=1.4,
                       handletextpad=0.2, columnspacing=0.6, borderaxespad=0,
                       prop={"family": SERIF, "size": 12})
        for txt, cc in zip(leg.get_texts(), [RED, BLUE]):
            txt.set_color(cc)

fig.savefig("out.png", dpi=100)
